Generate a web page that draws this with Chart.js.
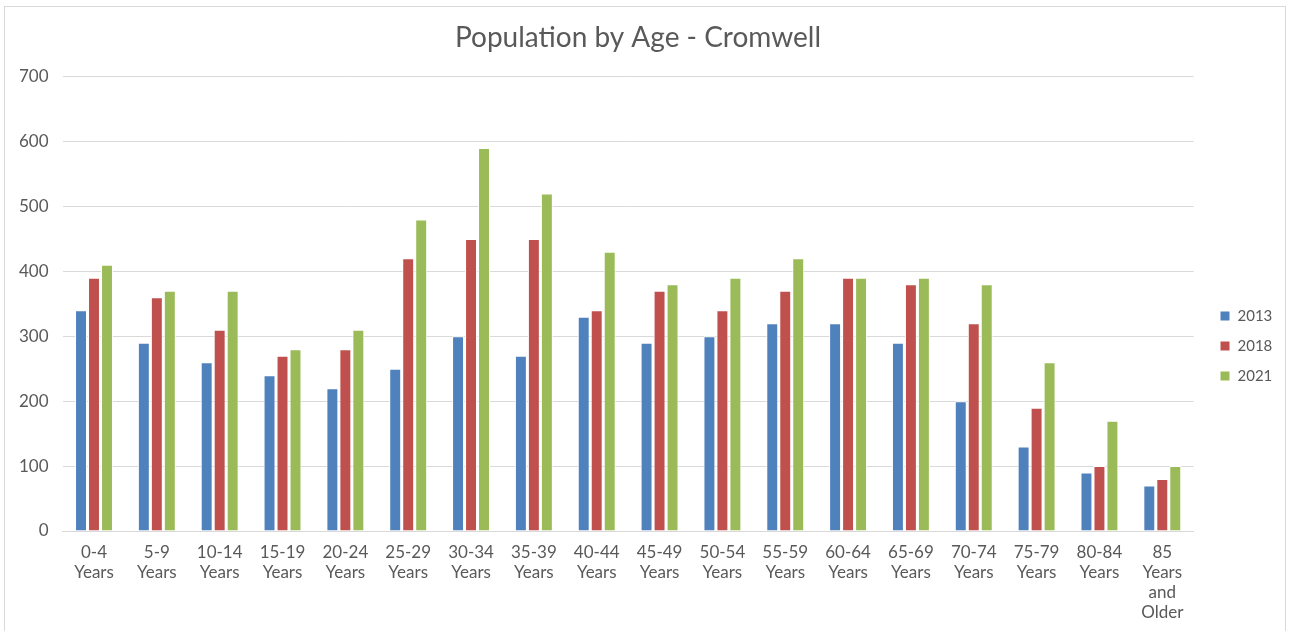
<!DOCTYPE html>
<html>
<head>
<meta charset="utf-8">
<title>Population by Age - Cromwell</title>
<script src="https://cdn.jsdelivr.net/npm/chart.js@4.4.1/dist/chart.umd.min.js"></script>
<style>
    html, body { margin: 0; padding: 0; background: #fff; overflow: hidden; }
    #frame {
        position: absolute;
        left: 4px;
        top: 6px;
        width: 1280px;
        height: 640px;
        border: 1px solid #d9d9d9;
    }
    #chart { display: block; }
</style>
</head>
<body>
<div id="frame">
    <canvas id="chart" width="1280" height="624"></canvas>
</div>
<script>
// 연령대 구간
const ageGroups = [
    ['0-4', 'Years'], ['5-9', 'Years'], ['10-14', 'Years'], ['15-19', 'Years'],
    ['20-24', 'Years'], ['25-29', 'Years'], ['30-34', 'Years'], ['35-39', 'Years'],
    ['40-44', 'Years'], ['45-49', 'Years'], ['50-54', 'Years'], ['55-59', 'Years'],
    ['60-64', 'Years'], ['65-69', 'Years'], ['70-74', 'Years'], ['75-79', 'Years'],
    ['80-84', 'Years'], ['85', 'Years', 'and', 'Older'],
];

const pop2013 = [340, 290, 260, 240, 220, 250, 300, 270, 330, 290, 300, 320, 320, 290, 200, 130, 90, 70];
const pop2018 = [390, 360, 310, 270, 280, 420, 450, 450, 340, 370, 340, 370, 390, 380, 320, 190, 100, 80];
const pop2021 = [410, 370, 370, 280, 310, 480, 590, 520, 430, 380, 390, 420, 390, 390, 380, 260, 170, 100];

const yTicks = [0, 100, 200, 300, 400, 500, 600, 700];

const textColor = '#595959';
const gridColor = '#d9d9d9';
const fontFamily = 'Lato, "Open Sans", sans-serif';

function barSet(label, data, color) {
    return {
        label,
        data,
        backgroundColor: color,
        borderColor: '#ffffff',
        borderWidth: 1,
        categoryPercentage: 0.62,
        barPercentage: 0.92,
    };
}

// 범례를 플롯 오른쪽 중앙 쪽으로 옮긴다
const legendNudge = {
    id: 'legendNudge',
    afterLayout(chart) {
        const lg = chart.legend;
        const dx = 1215 - (lg.left + lg.options.labels.padding);
        const dy = 25;
        lg.left += dx; lg.right += dx;
        lg.top += dy; lg.bottom += dy;
    },
};

new Chart(document.getElementById('chart'), {
    type: 'bar',
    data: {
        labels: ageGroups,
        datasets: [
            barSet('2013', pop2013, '#4f81bd'),
            barSet('2018', pop2018, '#c0504d'),
            barSet('2021', pop2021, '#9bbb59'),
        ],
    },
    options: {
        responsive: false,
        animation: false,
        layout: { padding: { left: 0, right: 14, top: 8, bottom: 4 } },
        plugins: {
            title: {
                display: true,
                text: 'Population by Age - Cromwell',
                color: textColor,
                font: { family: fontFamily, size: 28, weight: '400' },
                padding: { top: 6, bottom: 22 },
            },
            legend: {
                position: 'right',
                align: 'center',
                labels: {
                    color: textColor,
                    font: { family: fontFamily, size: 15 },
                    boxWidth: 10,
                    boxHeight: 10,
                    padding: 15,
                    useBorderRadius: false,
                },
            },
            tooltip: { enabled: false },
        },
        scales: {
            x: {
                grid: { display: false },
                border: { color: gridColor, width: 1 },
                ticks: {
                    color: textColor,
                    font: { family: fontFamily, size: 17, lineHeight: '20px' },
                    maxRotation: 0,
                    autoSkip: false,
                    padding: 4,
                },
            },
            y: {
                min: 0,
                max: 700,
                afterBuildTicks: axis => { axis.ticks = yTicks.map(v => ({ value: v })); },
                grid: { color: gridColor, lineWidth: 1, drawTicks: false },
                border: { display: false },
                ticks: {
                    color: textColor,
                    font: { family: fontFamily, size: 17 },
                    padding: 14,
                },
            },
        },
    },
    plugins: [legendNudge],
});
</script>
</body>
</html>
